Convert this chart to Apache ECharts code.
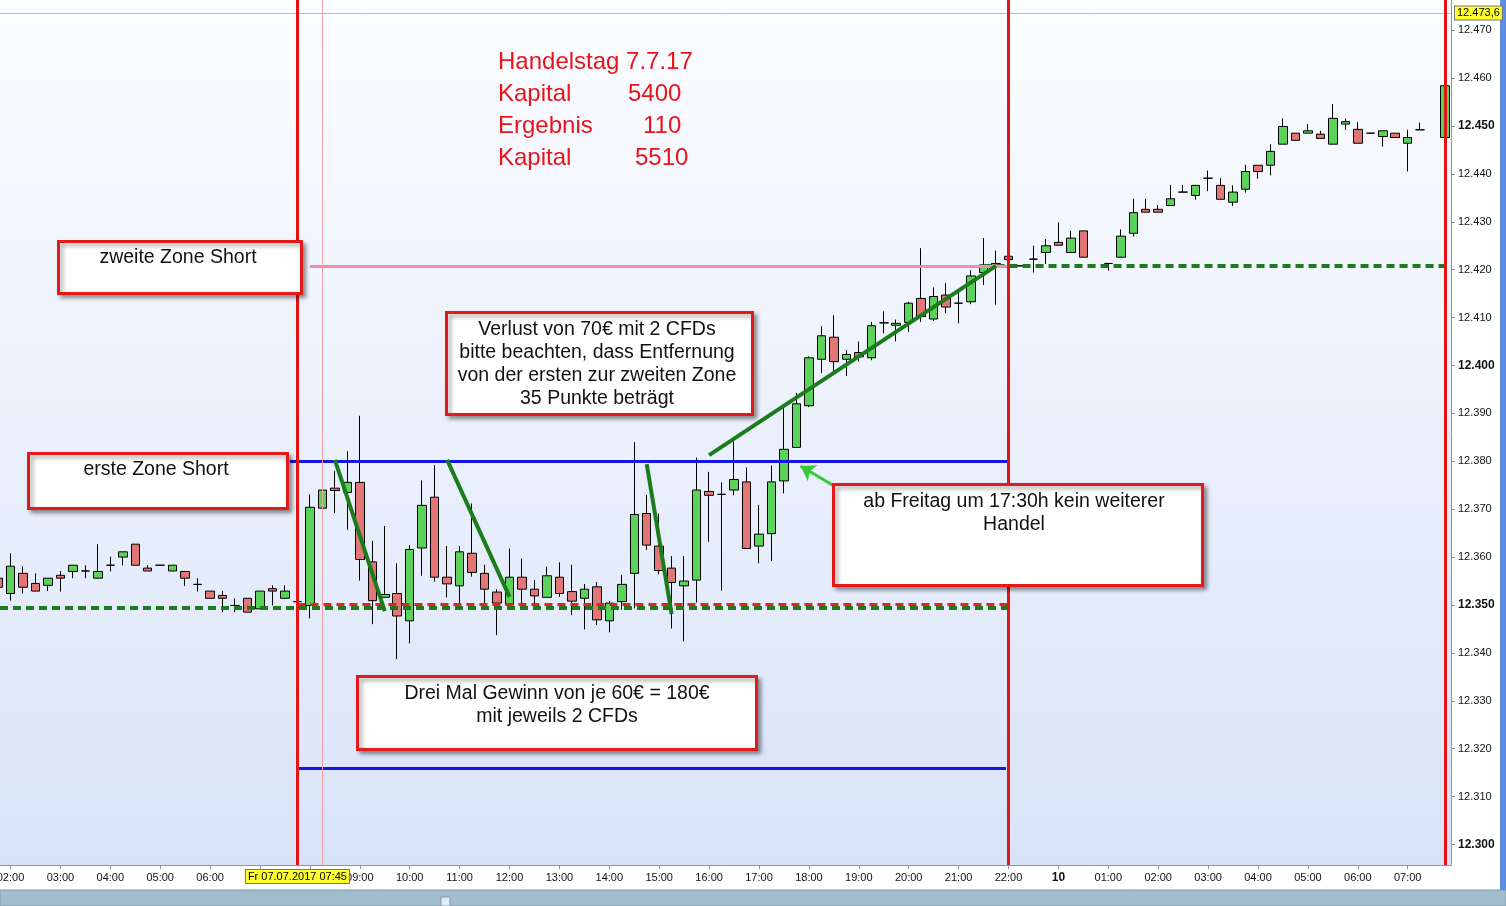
<!DOCTYPE html>
<html>
<head>
<meta charset="utf-8">
<title>Handelstag 7.7.17</title>
<script src="https://cdn.jsdelivr.net/npm/echarts@6/dist/echarts.min.js"></script>
<style>
html, body { margin: 0; padding: 0; background: #fff; }
#chart { width: 1506px; height: 906px; }
</style>
</head>
<body>
<div id="chart"></div>
<script>
/* 15-Minuten-Kerzen, Fr 07.07.2017 und Mo 10.07.2017 */
var candleTime = [
  'Fr 01:45',
  'Fr 02:00', 'Fr 02:15', 'Fr 02:30', 'Fr 02:45',
  'Fr 03:00', 'Fr 03:15', 'Fr 03:30', 'Fr 03:45',
  'Fr 04:00', 'Fr 04:15', 'Fr 04:30', 'Fr 04:45',
  'Fr 05:00', 'Fr 05:15', 'Fr 05:30', 'Fr 05:45',
  'Fr 06:00', 'Fr 06:15', 'Fr 06:30', 'Fr 06:45',
  'Fr 07:00', 'Fr 07:15', 'Fr 07:30', 'Fr 07:45',
  'Fr 08:00', 'Fr 08:15', 'Fr 08:30', 'Fr 08:45',
  'Fr 09:00', 'Fr 09:15', 'Fr 09:30', 'Fr 09:45',
  'Fr 10:00', 'Fr 10:15', 'Fr 10:30', 'Fr 10:45',
  'Fr 11:00', 'Fr 11:15', 'Fr 11:30', 'Fr 11:45',
  'Fr 12:00', 'Fr 12:15', 'Fr 12:30', 'Fr 12:45',
  'Fr 13:00', 'Fr 13:15', 'Fr 13:30', 'Fr 13:45',
  'Fr 14:00', 'Fr 14:15', 'Fr 14:30', 'Fr 14:45',
  'Fr 15:00', 'Fr 15:15', 'Fr 15:30', 'Fr 15:45',
  'Fr 16:00', 'Fr 16:15', 'Fr 16:30', 'Fr 16:45',
  'Fr 17:00', 'Fr 17:15', 'Fr 17:30', 'Fr 17:45',
  'Fr 18:00', 'Fr 18:15', 'Fr 18:30', 'Fr 18:45',
  'Fr 19:00', 'Fr 19:15', 'Fr 19:30', 'Fr 19:45',
  'Fr 20:00', 'Fr 20:15', 'Fr 20:30', 'Fr 20:45',
  'Fr 21:00', 'Fr 21:15', 'Fr 21:30', 'Fr 21:45',
  'Fr 22:00', 'Fr 22:15', 'Fr 22:30', 'Fr 22:45',
  'Mo 00:00', 'Mo 00:15', 'Mo 00:30',
  'Mo 01:00', 'Mo 01:15', 'Mo 01:30', 'Mo 01:45',
  'Mo 02:00', 'Mo 02:15', 'Mo 02:30', 'Mo 02:45',
  'Mo 03:00', 'Mo 03:15', 'Mo 03:30', 'Mo 03:45',
  'Mo 04:00', 'Mo 04:15', 'Mo 04:30', 'Mo 04:45',
  'Mo 05:00', 'Mo 05:15', 'Mo 05:30', 'Mo 05:45',
  'Mo 06:00', 'Mo 06:15', 'Mo 06:30', 'Mo 06:45',
  'Mo 07:00', 'Mo 07:15', 'Mo 07:45'
];
var openPx = [
  12.3556,
  12.3524, 12.3566, 12.3545, 12.3541,
  12.3562, 12.3570, 12.3571, 12.3556,
  12.3583, 12.3600, 12.3627, 12.3577,
  12.3583, 12.3571, 12.3570, 12.3543,
  12.3529, 12.3520, 12.3499, 12.3514,
  12.3492, 12.3534, 12.3514, 12.3507,
  12.3499, 12.3702, 12.3744, 12.3735,
  12.3756, 12.3590, 12.3516, 12.3524,
  12.3467, 12.3619, 12.3725, 12.3558,
  12.3540, 12.3608, 12.3566, 12.3527,
  12.3501, 12.3558, 12.3533, 12.3516,
  12.3558, 12.3528, 12.3514, 12.3538,
  12.3467, 12.3507, 12.3566, 12.3691,
  12.3623, 12.3577, 12.3540, 12.3552,
  12.3737, 12.3731, 12.3740, 12.3757,
  12.3623, 12.3649, 12.3759, 12.3829,
  12.3916, 12.4013, 12.4059, 12.4013,
  12.4027, 12.4016, 12.4089, 12.4084,
  12.4090, 12.4140, 12.4097, 12.4147,
  12.4130, 12.4133, 12.4194, 12.4213,
  12.4228, 12.4208, 12.4222, 12.4236,
  12.4257, 12.4236, 12.4281,
  12.4213, 12.4226, 12.4276, 12.4326,
  12.4326, 12.4334, 12.4362, 12.4355,
  12.4391, 12.4376, 12.4341, 12.4368,
  12.4418, 12.4418, 12.4462, 12.4485,
  12.4485, 12.4483, 12.4462, 12.4504,
  12.4493, 12.4485, 12.4478, 12.4485,
  12.4464, 12.4492, 12.4476
];
var closePx = [
  12.3537,
  12.3581, 12.3537, 12.3529, 12.3556,
  12.3556, 12.3583, 12.3571, 12.3570,
  12.3583, 12.3611, 12.3583, 12.3571,
  12.3583, 12.3583, 12.3556, 12.3543,
  12.3514, 12.3514, 12.3499, 12.3485,
  12.3529, 12.3529, 12.3529, 12.3507,
  12.3704, 12.3740, 12.3739, 12.3756,
  12.3595, 12.3509, 12.3522, 12.3477,
  12.3616, 12.3708, 12.3558, 12.3544,
  12.3611, 12.3568, 12.3533, 12.3504,
  12.3558, 12.3533, 12.3519, 12.3561,
  12.3524, 12.3508, 12.3533, 12.3469,
  12.3504, 12.3543, 12.3689, 12.3625,
  12.3572, 12.3547, 12.3550, 12.3740,
  12.3729, 12.3731, 12.3762, 12.3618,
  12.3648, 12.3757, 12.3825, 12.3920,
  12.4016, 12.4062, 12.4008, 12.4023,
  12.4018, 12.4083, 12.4089, 12.4088,
  12.4130, 12.4102, 12.4144, 12.4122,
  12.4130, 12.4187, 12.4210, 12.4206,
  12.4221, 12.4208, 12.4222, 12.4250,
  12.4251, 12.4266, 12.4226,
  12.4213, 12.4270, 12.4319, 12.4320,
  12.4320, 12.4348, 12.4362, 12.4376,
  12.4391, 12.4347, 12.4362, 12.4405,
  12.4405, 12.4447, 12.4499, 12.4470,
  12.4490, 12.4474, 12.4516, 12.4509,
  12.4464, 12.4485, 12.4490, 12.4476,
  12.4476, 12.4492, 12.4584
];
var lowPx = [
  12.3530,
  12.3509, 12.3524, 12.3529, 12.3529,
  12.3528, 12.3556, 12.3556, 12.3556,
  12.3570, 12.3583, 12.3583, 12.3571,
  12.3583, 12.3571, 12.3540, 12.3528,
  12.3514, 12.3485, 12.3485, 12.3485,
  12.3492, 12.3499, 12.3514, 12.3507,
  12.3472, 12.3683, 12.3692, 12.3657,
  12.3551, 12.3460, 12.3516, 12.3387,
  12.3420, 12.3561, 12.3549, 12.3516,
  12.3502, 12.3559, 12.3493, 12.3437,
  12.3501, 12.3502, 12.3504, 12.3516,
  12.3517, 12.3479, 12.3449, 12.3458,
  12.3443, 12.3490, 12.3493, 12.3615,
  12.3564, 12.3451, 12.3424, 12.3505,
  12.3632, 12.3530, 12.3729, 12.3617,
  12.3587, 12.3592, 12.3733, 12.3829,
  12.3913, 12.3984, 12.3987, 12.3978,
  12.4008, 12.4011, 12.4067, 12.4050,
  12.4070, 12.4091, 12.4093, 12.4109,
  12.4088, 12.4128, 12.4168, 12.4127,
  12.4221, 12.4208, 12.4194, 12.4212,
  12.4251, 12.4236, 12.4226,
  12.4198, 12.4226, 12.4269, 12.4320,
  12.4320, 12.4334, 12.4362, 12.4346,
  12.4364, 12.4347, 12.4333, 12.4361,
  12.4390, 12.4397, 12.4462, 12.4470,
  12.4485, 12.4474, 12.4462, 12.4492,
  12.4464, 12.4485, 12.4457, 12.4476,
  12.4405, 12.4492, 12.4476
];
var highPx = [
  12.3560,
  12.3608, 12.3581, 12.3566, 12.3556,
  12.3571, 12.3583, 12.3583, 12.3627,
  12.3601, 12.3611, 12.3627, 12.3583,
  12.3583, 12.3583, 12.3570, 12.3556,
  12.3529, 12.3529, 12.3514, 12.3514,
  12.3529, 12.3541, 12.3541, 12.3507,
  12.3731, 12.3780, 12.3780, 12.3821,
  12.3895, 12.3634, 12.3665, 12.3587,
  12.3625, 12.3760, 12.3792, 12.3623,
  12.3623, 12.3712, 12.3584, 12.3533,
  12.3618, 12.3597, 12.3552, 12.3580,
  12.3589, 12.3584, 12.3544, 12.3548,
  12.3508, 12.3563, 12.3840, 12.3730,
  12.3691, 12.3602, 12.3602, 12.3808,
  12.3778, 12.3756, 12.3842, 12.3787,
  12.3709, 12.3791, 12.3911, 12.3943,
  12.4019, 12.4082, 12.4105, 12.4032,
  12.4050, 12.4091, 12.4113, 12.4096,
  12.4133, 12.4245, 12.4163, 12.4172,
  12.4154, 12.4199, 12.4266, 12.4240,
  12.4228, 12.4208, 12.4250, 12.4264,
  12.4299, 12.4281, 12.4281,
  12.4213, 12.4284, 12.4348, 12.4348,
  12.4335, 12.4377, 12.4377, 12.4376,
  12.4407, 12.4391, 12.4376, 12.4419,
  12.4418, 12.4462, 12.4516, 12.4485,
  12.4504, 12.4490, 12.4546, 12.4516,
  12.4508, 12.4485, 12.4490, 12.4485,
  12.4492, 12.4507, 12.4584
];

/* Achsenbeschriftung: eine Beschriftung je volle Stunde */
var xTickLabels = ['02:00', '03:00', '04:00', '05:00', '06:00', '07:00', '08:00', '09:00',
  '10:00', '11:00', '12:00', '13:00', '14:00', '15:00', '16:00', '17:00', '18:00',
  '19:00', '20:00', '21:00', '22:00', '10', '01:00', '02:00', '03:00', '04:00',
  '05:00', '06:00', '07:00'];
var yTickValues = [12.300, 12.310, 12.320, 12.330, 12.340, 12.350, 12.360, 12.370, 12.380,
  12.390, 12.400, 12.410, 12.420, 12.430, 12.440, 12.450, 12.460, 12.470];

/* Zonen */
var zoneOneTop = 12.380;
var zoneOneBottom = 12.316;
var zoneTwo = 12.4208;
var entryLevel = 12.3501;
var supportLevel = 12.3494;
var cursorPrice = 12.4736;

/* Trendlinien [von, bis] als [Zeit, Kurs] */
var shortMoves = [
  [['Fr 08:30', 12.3803], ['Fr 09:30', 12.3487]],
  [['Fr 10:45', 12.3803], ['Fr 12:00', 12.3517]],
  [['Fr 14:45', 12.3794], ['Fr 15:15', 12.3481]]
];
var lossMove = [['Fr 16:00', 12.3813], ['Fr 21:45', 12.4208]];
var arrowMove = [['Fr 18:55', 12.3723], ['Fr 17:50', 12.3790]];

var X_MIN = -0.842, X_MAX = 115.47;
var Y_MIN = 12.29572, Y_MAX = 12.4763;

// Fr 02:00 = 0, die Nacht/das Wochenende ist ausgeblendet, Mo 00:00 = 84
function slotOf(t) {
  if (typeof t === 'number') return t;
  var hm = t.slice(3).split(':');
  var q = (parseInt(hm[0], 10) * 60 + parseInt(hm[1], 10)) / 15;
  return t.slice(0, 2) === 'Fr' ? q - 8 : q + 84;
}

var candles = [];
for (var i = 0; i < candleTime.length; i++) {
  candles.push([slotOf(candleTime[i]), openPx[i], closePx[i], lowPx[i], highPx[i]]);
}

var sBlue = {color: '#1515e4', width: 3, type: 'solid'};
var sPink = {color: '#f38bba', width: 3, type: 'solid'};
var sTrend = {color: '#1b7c1b', width: 4, type: 'solid'};
var sArrow = {color: '#35c935', width: 3, type: 'solid'};
var sGreenDash = {color: '#1d7a1d', width: 4, type: [8, 5]};
var sRedDash = {color: '#ec1f1f', width: 3, type: [8, 5]};
var sRedV = {color: '#e31414', width: 3, type: 'solid'};
var sCross = {color: '#f2a3a3', width: 1, type: 'solid'};

function seg(a, b, style, endSymbol) {
  return [
    {coord: [slotOf(a[0]), a[1]], lineStyle: style, symbol: 'none'},
    {coord: [slotOf(b[0]), b[1]], symbol: endSymbol || 'none'}
  ];
}

var yellowLabel = {
  show: true, color: '#000', fontSize: 11, fontFamily: 'Liberation Sans',
  backgroundColor: '#ffff2e', borderColor: '#777', borderWidth: 1, padding: [1, 2]
};

var lines = [];
lines.push(seg([X_MIN, supportLevel], ['Fr 22:00', supportLevel], sGreenDash));
lines.push(seg(['Fr 07:45', entryLevel], ['Fr 22:00', entryLevel], sRedDash));
lines.push(seg(['Fr 21:30', zoneTwo], [X_MAX, zoneTwo], sGreenDash));
lines.push(seg(['Fr 07:36', zoneOneTop], ['Fr 22:00', zoneOneTop], sBlue));
lines.push(seg(['Fr 07:46', zoneOneBottom], ['Fr 21:57', zoneOneBottom], sBlue));
lines.push(seg(['Fr 08:00', zoneTwo], ['Fr 22:00', zoneTwo], sPink));
shortMoves.forEach(function (m) { lines.push(seg(m[0], m[1], sTrend)); });
lines.push(seg(lossMove[0], lossMove[1], sTrend));
lines.push(seg(arrowMove[0], arrowMove[1], sArrow, 'arrow'));
lines.push({xAxis: slotOf('Fr 08:15'), lineStyle: sCross});
lines.push({yAxis: cursorPrice, lineStyle: sCross,
  label: Object.assign({position: 'end', distance: 4, formatter: '12.473,6'}, yellowLabel)});
lines.push({xAxis: slotOf('Fr 07:45'), lineStyle: sRedV,
  label: Object.assign({position: 'start', distance: 5, formatter: 'Fr 07.07.2017 07:45'}, yellowLabel)});
lines.push({xAxis: slotOf('Fr 22:00'), lineStyle: sRedV});
lines.push({xAxis: slotOf('Mo 07:45'), lineStyle: sRedV});

var FONT = '"Liberation Sans", Arial, sans-serif';

function noteBox(x, y, w, h, text, cx, cy) {
  return [{
    type: 'rect', z: 50,
    shape: {x: x, y: y, width: w, height: h},
    style: {fill: '#fff', stroke: '#e21a1a', lineWidth: 3,
      shadowBlur: 4, shadowOffsetX: 3, shadowOffsetY: 3, shadowColor: 'rgba(0,0,0,0.35)'}
  }, {
    type: 'text', z: 51, x: cx, y: cy,
    style: {text: text, fill: '#111', font: '19.5px ' + FONT, align: 'center',
      verticalAlign: 'middle', lineHeight: 23}
  }];
}

function redText(x, y, text) {
  return {type: 'text', z: 51, x: x, y: y,
    style: {text: text, fill: '#e8141c', font: '24px ' + FONT, align: 'left', verticalAlign: 'middle'}};
}

var graphics = [
  {type: 'rect', z: 1, shape: {x: 0, y: 890, width: 1506, height: 16},
    style: {fill: '#a2bdcc', stroke: '#7f9aab', lineWidth: 1}},
  {type: 'rect', z: 2, shape: {x: 441, y: 897, width: 9, height: 9},
    style: {fill: '#e4edf1', stroke: '#7f9aab', lineWidth: 1}},
  {type: 'rect', z: 1, shape: {x: 1500, y: 0, width: 6, height: 890},
    style: {fill: '#5b8de0'}}
];
graphics = graphics
  .concat(noteBox(58.5, 241.5, 243, 52, 'zweite Zone Short', 178, 258))
  .concat(noteBox(28.5, 453.5, 259, 55, 'erste Zone Short', 156, 470))
  .concat(noteBox(446.5, 312.5, 306, 102,
    'Verlust von 70€ mit 2 CFDs\nbitte beachten, dass Entfernung\nvon der ersten zur zweiten Zone\n35 Punkte beträgt', 597, 364))
  .concat(noteBox(833.5, 484.5, 369, 101,
    'ab Freitag um 17:30h kein weiterer\nHandel', 1014, 513))
  .concat(noteBox(357.5, 676.5, 399, 73,
    'Drei Mal Gewinn von je 60€ = 180€\nmit jeweils 2 CFDs', 557, 705));
graphics.push(redText(498, 62, 'Handelstag 7.7.17'));
graphics.push(redText(498, 94, 'Kapital'));
graphics.push(redText(628, 94, '5400'));
graphics.push(redText(498, 126, 'Ergebnis'));
graphics.push(redText(643, 126, '110'));
graphics.push(redText(498, 158, 'Kapital'));
graphics.push(redText(635, 158, '5510'));

var chart = echarts.init(document.getElementById('chart'));
var option = {
  animation: false,
  backgroundColor: '#fff',
  textStyle: {fontFamily: FONT},
  grid: {
    left: 0, right: 55, top: 0, bottom: 41,
    outerBoundsMode: 'none',
    show: true, borderWidth: 0,
    backgroundColor: {
      type: 'linear', x: 0, y: 0, x2: 0, y2: 1,
      colorStops: [{offset: 0, color: '#fcfdff'}, {offset: 1, color: '#d9e3f8'}]
    }
  },
  xAxis: {
    type: 'value', min: X_MIN, max: X_MAX,
    splitLine: {show: false},
    axisLine: {show: true, onZero: false, lineStyle: {color: '#8595ab', width: 1}},
    axisTick: {show: true, length: 4, lineStyle: {color: '#8595ab'},
      customValues: xTickLabels.map(function (l, k) { return k * 4; })},
    axisLabel: {
      margin: 7, fontSize: 11, color: '#111', fontFamily: FONT,
      customValues: xTickLabels.map(function (l, k) { return k * 4; }),
      formatter: function (v) {
        var l = xTickLabels[Math.round(v / 4)] || '';
        return l.indexOf(':') < 0 ? '{b|' + l + '}' : l;
      },
      rich: {b: {fontWeight: 'bold', fontSize: 12, color: '#111'}}
    }
  },
  yAxis: {
    type: 'value', position: 'right', min: Y_MIN, max: Y_MAX, scale: true,
    splitLine: {show: false},
    axisLine: {show: true, onZero: false, lineStyle: {color: '#8595ab', width: 1}},
    axisTick: {show: true, length: 4, lineStyle: {color: '#8595ab'}, customValues: yTickValues},
    axisLabel: {
      margin: 7, fontSize: 11, color: '#111', fontFamily: FONT,
      customValues: yTickValues,
      formatter: function (v) {
        var s = v.toFixed(3);
        return Math.round(v * 1000) % 50 === 0 ? '{b|' + s + '}' : s;
      },
      rich: {b: {fontWeight: 'bold', fontSize: 12, color: '#111'}}
    }
  },
  series: [{
    type: 'candlestick',
    data: candles,
    barWidth: 9,
    clip: true,
    itemStyle: {
      color: '#5bd35b', color0: '#e27676',
      borderColor: '#000', borderColor0: '#000', borderColorDoji: '#000', borderWidth: 1
    },
    markLine: {
      silent: true,
      animation: false,
      precision: 4,
      symbol: 'none',
      symbolSize: 14,
      label: {show: false},
      emphasis: {disabled: true},
      data: lines
    }
  }],
  graphic: graphics
};
chart.setOption(option);
</script>
</body>
</html>
